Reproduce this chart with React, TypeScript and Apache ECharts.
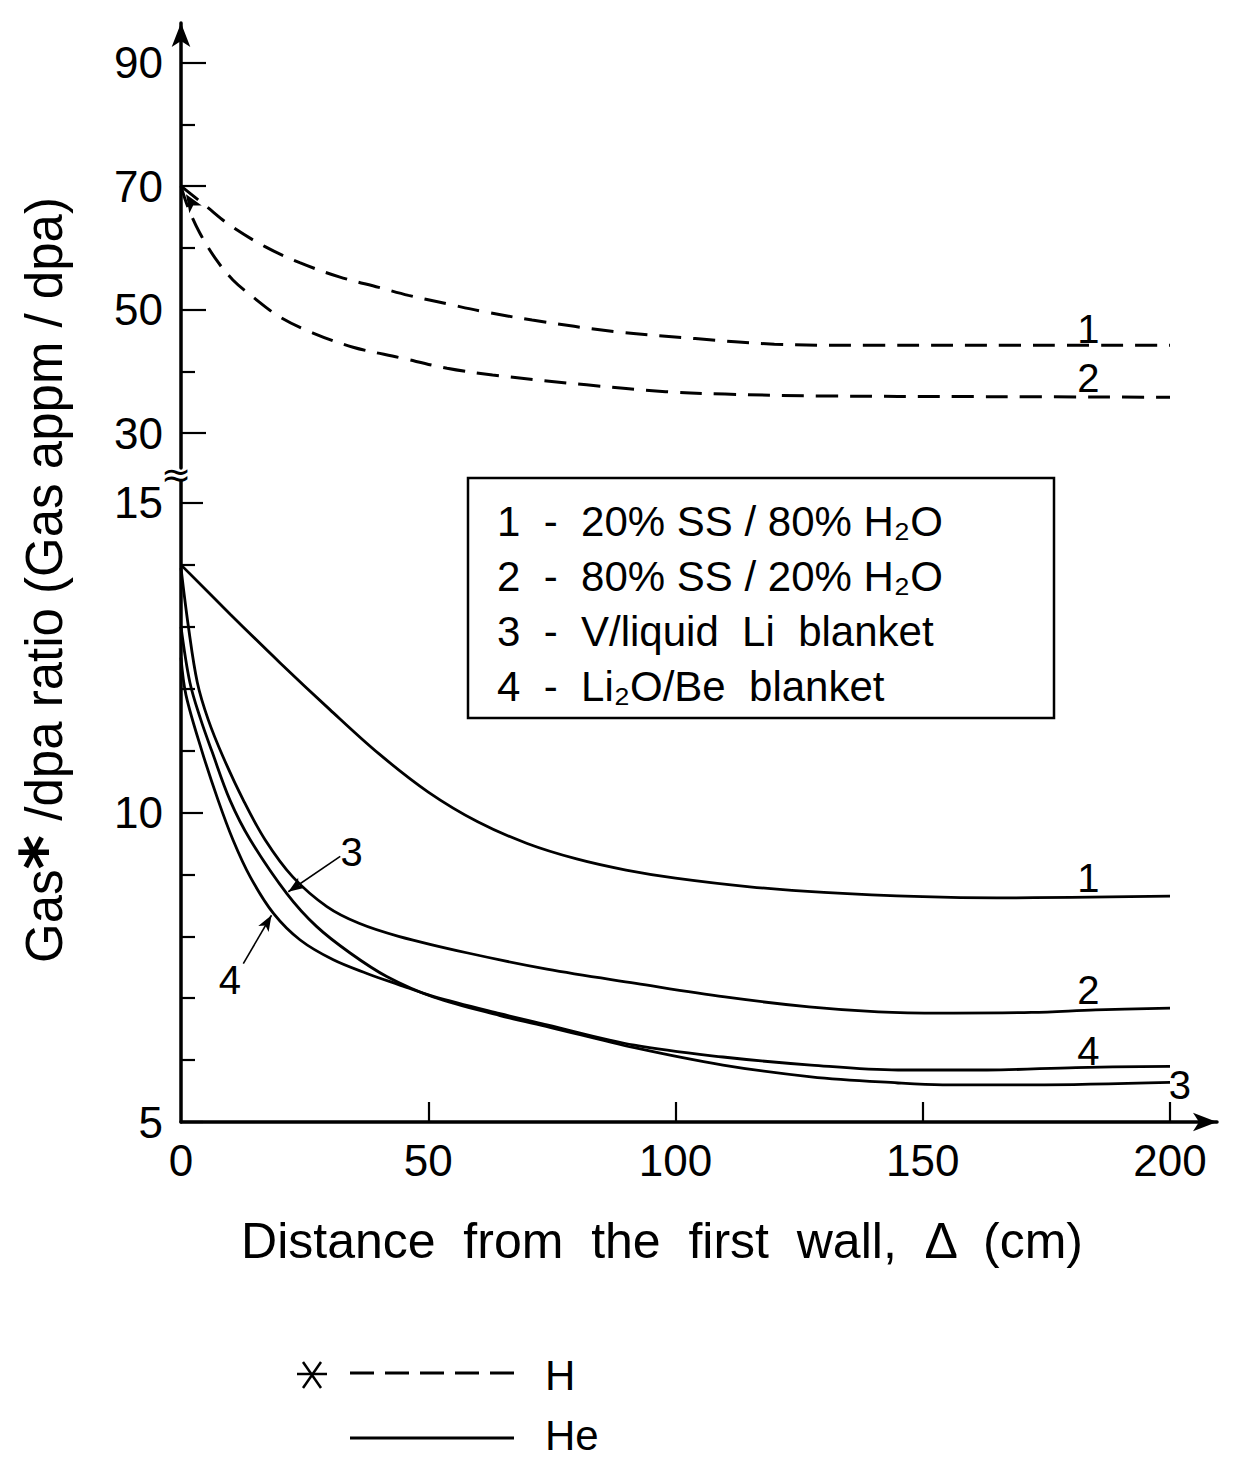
import React, { useEffect, useRef } from "react";
import * as echarts from "echarts";

const FONT = "'Liberation Sans', Arial, sans-serif";

// ---- H (dashed, upper panel): distance (cm) / gas-to-dpa ratio
const hDist1 = [0, 5, 10, 17, 24, 32, 40, 46, 54, 61, 71, 88, 104, 120, 140, 170, 200];
const hGas1 = [70, 66.8, 63.6, 60.2, 57.6, 55.3, 53.6, 52.3, 50.9, 49.7, 48.3, 46.4, 45.3, 44.4, 44.2, 44.2, 44.2];
const hDist2 = [0, 1.4, 3.8, 7.2, 10.5, 14.6, 20, 26.7, 34.8, 44.3, 53.8, 63, 82, 98, 110, 130, 160, 200];
const hGas2 = [70, 66.6, 62.4, 58.0, 54.8, 52.0, 48.8, 46.2, 43.9, 42.2, 40.5, 39.4, 37.8, 36.7, 36.3, 36.0, 35.9, 35.8];

// ---- He (solid, lower panel)
const heDist1 = [0, 10, 20, 30, 40, 50, 60, 70, 80, 90, 100, 115, 130, 150, 165, 180, 200];
const heGas1 = [14.0, 13.2, 12.42, 11.67, 10.95, 10.33, 9.85, 9.5, 9.25, 9.07, 8.94, 8.8, 8.71, 8.64, 8.62, 8.63, 8.65];
const heDist2 = [0, 1.5, 3.3, 5.5, 8.5, 12.6, 17, 22.6, 29.5, 36, 44, 58, 74, 92, 110, 127, 141, 154, 172, 185, 200];
const heGas2 = [13.95, 13.0, 12.1, 11.5, 10.9, 10.2, 9.56, 8.96, 8.48, 8.21, 8.0, 7.73, 7.47, 7.24, 7.02, 6.86, 6.78, 6.76, 6.77, 6.81, 6.84];
const heDist3 = [0, 1.8, 4, 6.2, 9.9, 14, 21.4, 27.4, 34.2, 41.6, 51, 64.5, 74.6, 91.7, 109.6, 127.4, 145, 154, 172, 200];
const heGas3 = [13.0, 12.1, 11.5, 11.0, 10.2, 9.56, 8.69, 8.16, 7.73, 7.35, 7.02, 6.72, 6.53, 6.2, 5.92, 5.73, 5.63, 5.6, 5.6, 5.64];
const heDist4 = [0, 1, 4.2, 7.5, 10.5, 14, 18.7, 24.1, 30.8, 37.6, 44, 51, 64.5, 74, 91.7, 109.6, 127.4, 145, 163, 181, 200];
const heGas4 = [12.5, 11.9, 11.0, 10.2, 9.56, 8.96, 8.37, 7.94, 7.62, 7.4, 7.22, 7.03, 6.75, 6.57, 6.24, 6.05, 5.92, 5.84, 5.84, 5.88, 5.9];

// ---- ticks
const xTickLabels = [0, 50, 100, 150, 200];
const xTicks = [50, 100, 150, 200];
const yUpperLabels = [30, 50, 70, 90];
const yUpperMinor = [40, 60, 80];
const yLowerLabels = [5, 10, 15];
const yLowerMinor = [6, 7, 8, 9, 11, 12, 13, 14];

const legendLines = [
  "1  -  20% SS / 80% H₂O",
  "2  -  80% SS / 20% H₂O",
  "3  -  V/liquid  Li  blanket",
  "4  -  Li₂O/Be  blanket",
];

const pairs = (xs: number[], ys: number[]) => xs.map((x, i) => [x, ys[i]]);

const BLACK = "#000";
const axisLineStyle = { color: BLACK, width: 3.5 };
const tickStyle = { color: BLACK, width: 2.2 };

const tagLabel = (txt: string, size = 40) => ({
  show: true,
  position: "inside",
  formatter: txt,
  fontSize: size,
  color: BLACK,
  fontFamily: FONT,
});

const numberMark = (coord: number[], txt: string) => ({
  coord,
  symbol: "circle",
  symbolSize: 1,
  itemStyle: { color: "rgba(0,0,0,0)" },
  label: tagLabel(txt),
});

function buildOption() {
  const upperY = { min: 24.33, max: 96.43 };
  const lowerY = { min: 5, max: 15.355 };
  const xRange = { min: 0, max: 209.5 };
  const solid = (data: number[][], extra: any) => ({
    type: "line",
    xAxisIndex: 1,
    yAxisIndex: 1,
    data,
    smooth: 0.35,
    symbol: "none",
    showSymbol: false,
    lineStyle: { color: BLACK, width: 2.8 },
    ...extra,
  });
  const dashed = (data: number[][], extra: any) => ({
    type: "line",
    xAxisIndex: 0,
    yAxisIndex: 0,
    data,
    smooth: 0.35,
    symbol: "none",
    showSymbol: false,
    lineStyle: { color: BLACK, width: 3, type: [22, 12] },
    ...extra,
  });
  const callout = (from: number[], to: number[]) => ({
    silent: true,
    symbol: ["none", "arrow"],
    symbolSize: [9, 16],
    label: { show: false },
    lineStyle: { color: BLACK, width: 1.6, type: "solid" },
    data: [[{ coord: from }, { coord: to }]],
  });
  const numLabel = { fontSize: 44, color: BLACK, fontFamily: FONT };

  return {
    animation: false,
    backgroundColor: "#fff",
    grid: [
      { left: 181, top: 23, width: 1036, height: 445 },
      { left: 181, top: 481, width: 1036, height: 641 },
    ],
    xAxis: [
      { gridIndex: 0, type: "value", ...xRange, show: false },
      {
        gridIndex: 1,
        type: "value",
        ...xRange,
        axisLine: { show: true, lineStyle: axisLineStyle, symbol: ["none", "arrow"], symbolSize: [14, 24] },
        axisTick: { show: true, inside: true, length: 20, customValues: xTicks, lineStyle: tickStyle },
        axisLabel: { show: true, customValues: xTickLabels, margin: 16, ...numLabel },
        splitLine: { show: false },
      },
    ],
    yAxis: [
      {
        gridIndex: 0,
        type: "value",
        position: "left",
        ...upperY,
        axisLine: { show: true, lineStyle: axisLineStyle, symbol: ["none", "arrow"], symbolSize: [14, 24] },
        axisTick: { show: true, inside: true, length: 14, customValues: yUpperMinor, lineStyle: tickStyle },
        axisLabel: { show: true, customValues: yUpperLabels, margin: 18, ...numLabel },
        splitLine: { show: false },
      },
      {
        gridIndex: 1,
        type: "value",
        position: "left",
        ...lowerY,
        axisLine: { show: true, lineStyle: axisLineStyle },
        axisTick: { show: true, inside: true, length: 14, customValues: yLowerMinor, lineStyle: tickStyle },
        axisLabel: { show: true, customValues: yLowerLabels, margin: 18, ...numLabel },
        splitLine: { show: false },
      },
      {
        gridIndex: 0,
        type: "value",
        position: "left",
        offset: 0,
        ...upperY,
        axisLine: { show: false },
        axisTick: { show: true, inside: true, length: 25, customValues: yUpperLabels, lineStyle: tickStyle },
        axisLabel: { show: false },
        splitLine: { show: false },
      },
      {
        gridIndex: 1,
        type: "value",
        position: "left",
        offset: 0,
        ...lowerY,
        axisLine: { show: false },
        axisTick: { show: true, inside: true, length: 22, customValues: yLowerLabels, lineStyle: tickStyle },
        axisLabel: { show: false },
        splitLine: { show: false },
      },
    ],
    series: [
      dashed(pairs(hDist1, hGas1), {
        name: "H 1",
        markPoint: { silent: true, data: [numberMark([183.5, 46.8], "1")] },
      }),
      dashed(pairs(hDist2, hGas2), {
        name: "H 2",
        markPoint: {
          silent: true,
          data: [
            numberMark([183.5, 38.9], "2"),
            {
              coord: [0, 70],
              symbol: "arrow",
              symbolSize: [11, 18],
              symbolRotate: 32,
              symbolOffset: [5, 8],
              itemStyle: { color: BLACK },
              label: { show: false },
            },
          ],
        },
      }),
      solid(pairs(heDist1, heGas1), {
        name: "He 1",
        markPoint: { silent: true, data: [numberMark([183.5, 8.94], "1")] },
      }),
      solid(pairs(heDist2, heGas2), {
        name: "He 2",
        markPoint: { silent: true, data: [numberMark([183.5, 7.13], "2")] },
      }),
      solid(pairs(heDist3, heGas3), {
        name: "He 3",
        markPoint: { silent: true, data: [numberMark([202, 5.6], "3"), numberMark([34.5, 9.36], "3")] },
        markLine: callout([32.2, 9.29], [21.7, 8.72]),
      }),
      solid(pairs(heDist4, heGas4), {
        name: "He 4",
        markPoint: { silent: true, data: [numberMark([183.5, 6.14], "4"), numberMark([9.9, 7.29], "4")] },
        markLine: callout([12.6, 7.56], [18.3, 8.34]),
      }),
    ],
    graphic: [
      // axis break mark
      {
        type: "text",
        x: 176,
        y: 474,
        style: { text: "≈", fontSize: 36, fontFamily: "'DejaVu Sans'", fill: BLACK, align: "center", verticalAlign: "middle" },
      },
      // legend box
      {
        type: "rect",
        shape: { x: 468, y: 478, width: 586, height: 240 },
        style: { fill: "none", stroke: BLACK, lineWidth: 2.5 },
      },
      ...legendLines.map((t, i) => ({
        type: "text",
        x: 497,
        y: 521 + i * 55,
        style: { text: t, fontSize: 42, fontFamily: FONT, fill: BLACK, align: "left", verticalAlign: "middle" },
      })),
      // y axis title
      {
        type: "text",
        x: 44,
        y: 580,
        rotation: Math.PI / 2,
        style: {
          text: "{t|Gas}{a|*}{t| /dpa ratio (Gas appm / dpa)}",
          rich: {
            t: { fontSize: 51, fontFamily: FONT, fill: BLACK },
            a: { fontSize: 66, fontFamily: "'DejaVu Sans'", fontWeight: "bold", fill: BLACK },
          },
          align: "center",
          verticalAlign: "middle",
          fill: BLACK,
        },
      },
      // x axis title
      {
        type: "text",
        x: 662,
        y: 1241,
        style: {
          text: "Distance  from  the  first  wall,  Δ  (cm)",
          fontSize: 50,
          fontFamily: FONT,
          fill: BLACK,
          align: "center",
          verticalAlign: "middle",
        },
      },
      // bottom key: asterisk
      { type: "line", shape: { x1: 297, y1: 1374, x2: 327, y2: 1374 }, style: { stroke: BLACK, lineWidth: 2.5 } },
      { type: "line", shape: { x1: 303, y1: 1362, x2: 321, y2: 1388 }, style: { stroke: BLACK, lineWidth: 2.5 } },
      { type: "line", shape: { x1: 321, y1: 1362, x2: 303, y2: 1388 }, style: { stroke: BLACK, lineWidth: 2.5 } },
      // dashed key
      {
        type: "line",
        shape: { x1: 350, y1: 1373, x2: 514, y2: 1373 },
        style: { stroke: BLACK, lineWidth: 3, lineDash: [24, 11] },
      },
      {
        type: "text",
        x: 545,
        y: 1375,
        style: { text: "H", fontSize: 42, lineHeight: 42, fontFamily: FONT, fill: BLACK, align: "left", verticalAlign: "middle" },
      },
      // solid key
      { type: "line", shape: { x1: 350, y1: 1438, x2: 514, y2: 1438 }, style: { stroke: BLACK, lineWidth: 3 } },
      {
        type: "text",
        x: 545,
        y: 1435,
        style: { text: "He", fontSize: 42, lineHeight: 42, fontFamily: FONT, fill: BLACK, align: "left", verticalAlign: "middle" },
      },
    ],
  };
}

export default function App() {
  const ref = useRef<HTMLDivElement>(null);
  useEffect(() => {
    document.body.style.margin = "0";
    const chart = echarts.init(ref.current as HTMLDivElement, null, { renderer: "svg" });
    chart.setOption(buildOption() as any);
    return () => chart.dispose();
  }, []);
  return <div ref={ref} style={{ width: 1239, height: 1458 }} />;
}
